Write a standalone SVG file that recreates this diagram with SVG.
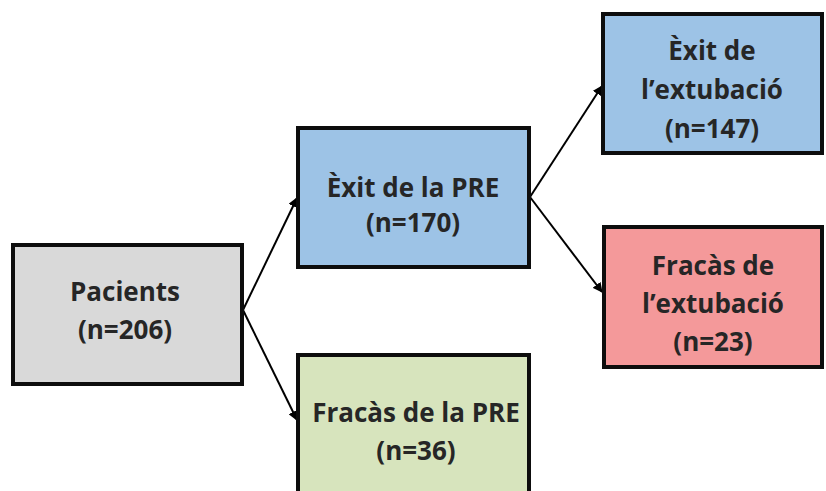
<svg xmlns="http://www.w3.org/2000/svg" width="826" height="491" viewBox="0 0 826 491">
<style>
.box{stroke:#0d0d0d;stroke-width:4}
.t{font-family:"Open Sans","Liberation Sans",sans-serif;font-weight:bold;font-size:26px;fill:#262626;text-anchor:middle}
.c{stroke:#000;stroke-width:2;fill:none}
</style>
<defs>
<marker id="ah" viewBox="0 0 10 10" refX="9" refY="5" markerWidth="5" markerHeight="5" orient="auto" markerUnits="strokeWidth">
<path d="M0,0 L10,5 L0,10 z" fill="#000"/>
</marker>
</defs>
<rect width="826" height="491" fill="#fff"/>
<g id="connectors">
<line class="c" x1="243" y1="310" x2="297" y2="198" marker-end="url(#ah)"/>
<line class="c" x1="243" y1="310" x2="297" y2="420" marker-end="url(#ah)"/>
<line class="c" x1="530" y1="197" x2="602" y2="86" marker-end="url(#ah)"/>
<line class="c" x1="530" y1="197" x2="602" y2="292" marker-end="url(#ah)"/>
</g>
<g id="pacients">
<rect class="box" x="13" y="245" width="229" height="139" fill="#d9d9d9"/>
<text class="t" x="125" y="301">Pacients</text>
<text class="t" x="125" y="339">(n=206)</text>
</g>
<g id="exit-pre">
<rect class="box" x="298" y="128" width="231" height="139" fill="#9dc3e6"/>
<text class="t" x="413" y="197">Èxit de la PRE</text>
<text class="t" x="413" y="232">(n=170)</text>
</g>
<g id="fracas-pre">
<rect class="box" x="298" y="355" width="231" height="140" fill="#d7e4bd"/>
<text class="t" x="416" y="422">Fracàs de la PRE</text>
<text class="t" x="416" y="460">(n=36)</text>
</g>
<g id="exit-extubacio">
<rect class="box" x="603" y="14" width="219" height="139" fill="#9dc3e6"/>
<text class="t" x="712" y="60">Èxit de</text>
<text class="t" x="712" y="99">l’extubació</text>
<text class="t" x="712" y="138">(n=147)</text>
</g>
<g id="fracas-extubacio">
<rect class="box" x="604" y="227" width="218" height="140" fill="#f4999a"/>
<text class="t" x="713" y="275">Fracàs de</text>
<text class="t" x="713" y="313">l’extubació</text>
<text class="t" x="713" y="351">(n=23)</text>
</g>
</svg>
